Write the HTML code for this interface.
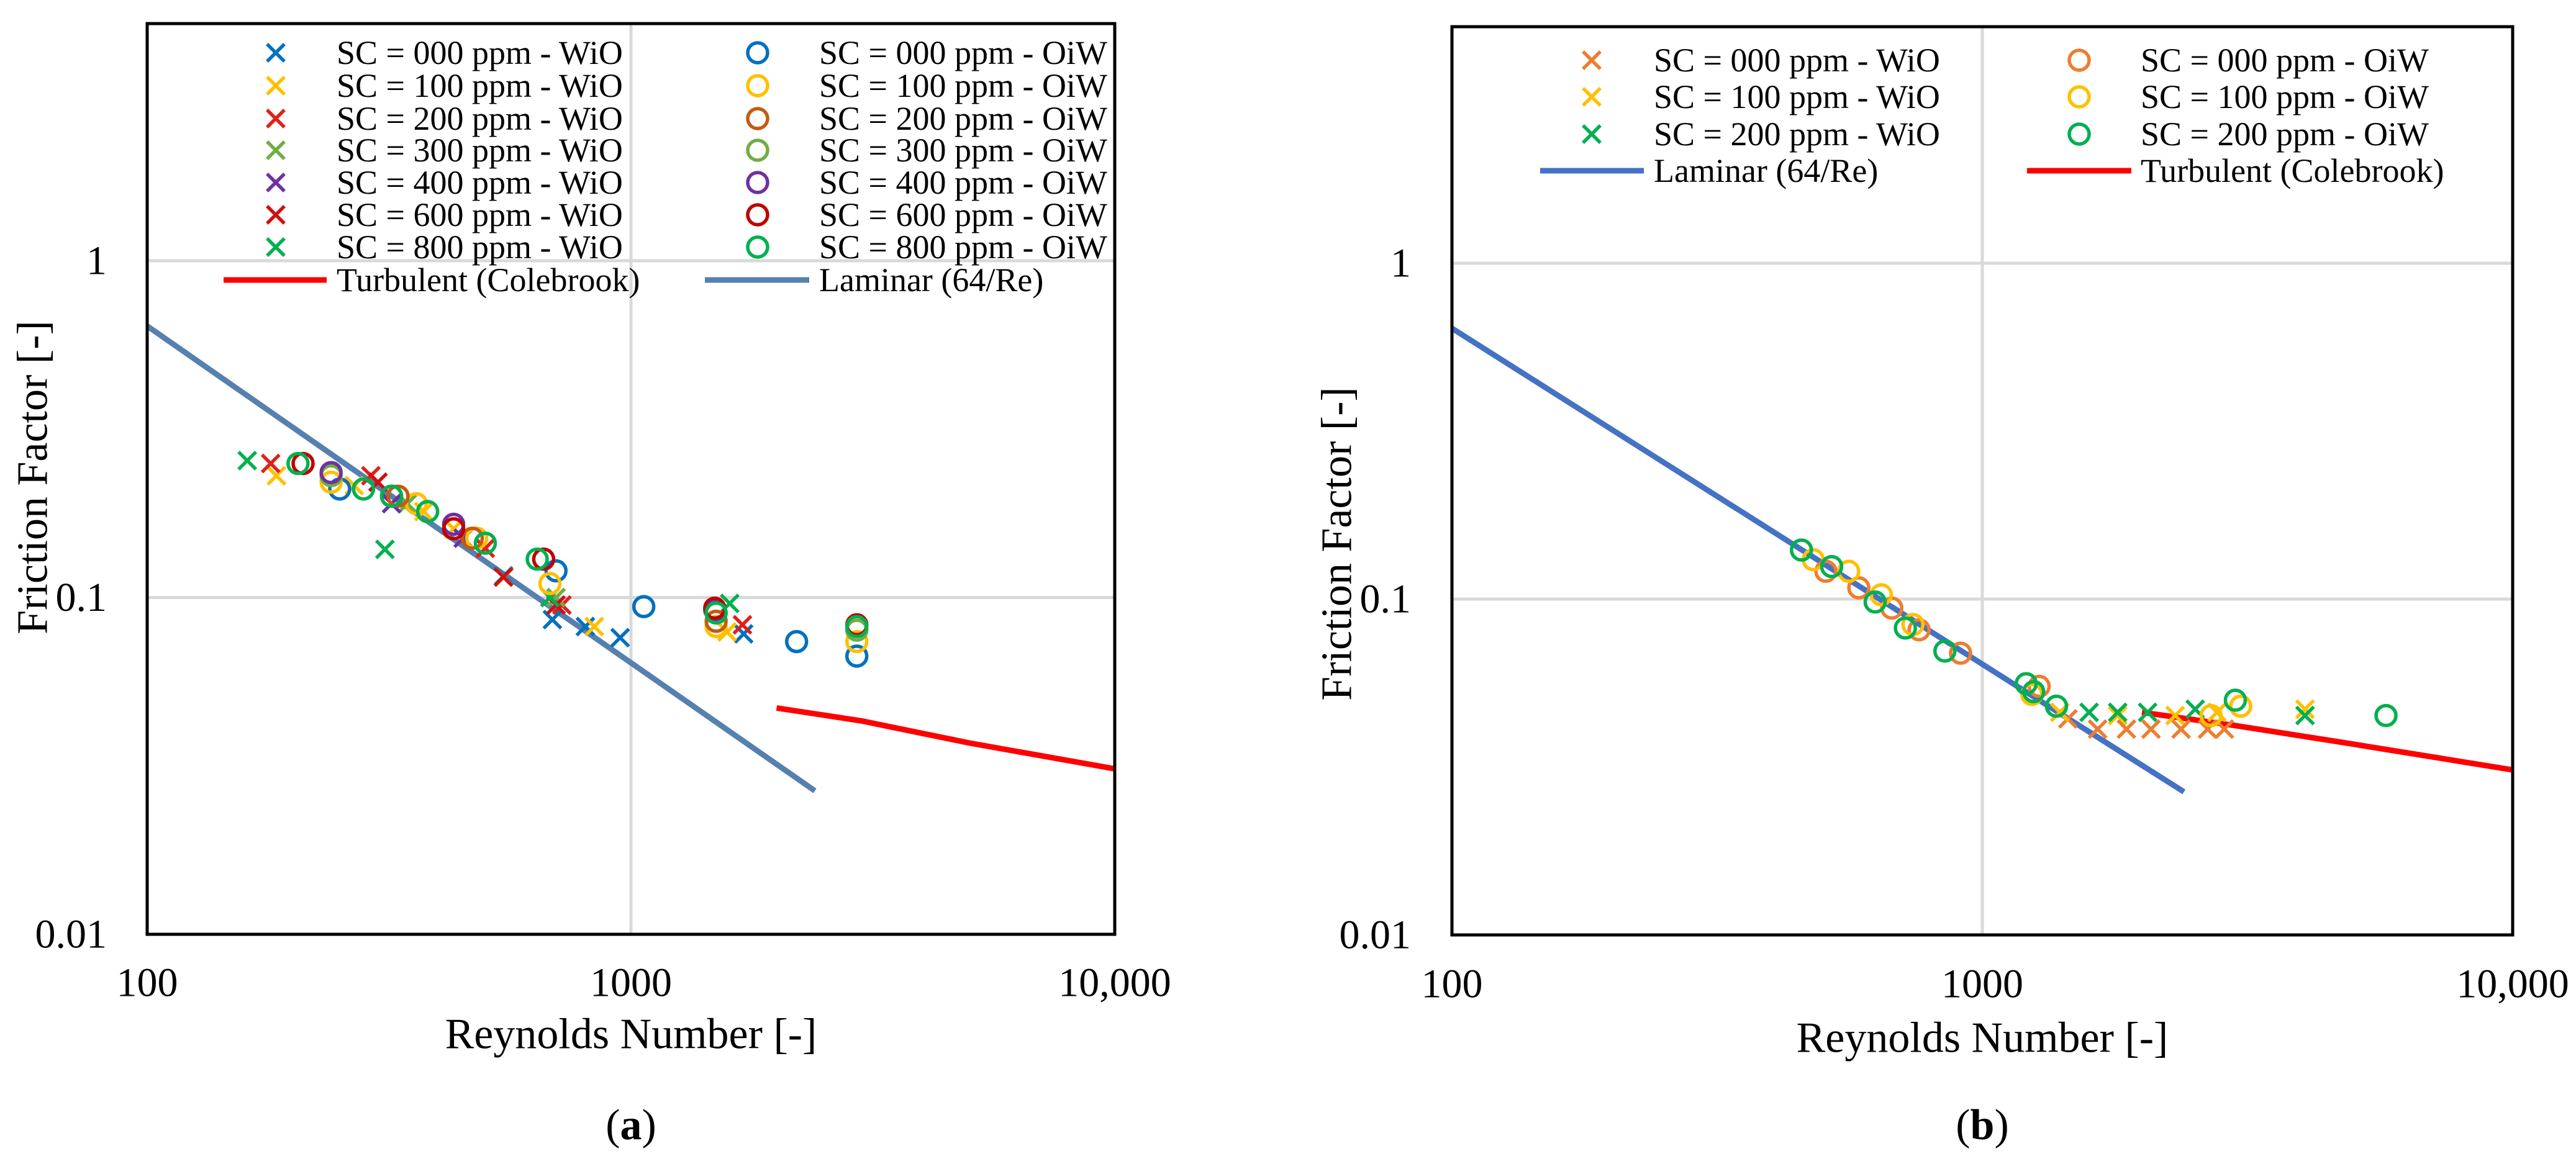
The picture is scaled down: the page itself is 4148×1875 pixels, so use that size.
<!DOCTYPE html>
<html><head><meta charset="utf-8"><style>
html,body{margin:0;padding:0;background:#fff;}
svg{display:block;}
svg text{font-family:"Liberation Serif","Times New Roman",serif;}
</style></head><body>
<svg id="fig" width="4148" height="1875" viewBox="0 0 4148 1875" xmlns="http://www.w3.org/2000/svg" font-family="Liberation Serif, serif">
<g id="chartA"></g>
<g id="chartB"></g>
</svg>
<script>
// ---------- Chart A data ----------
const aXTicks = [100, 1000, 10000];
const aXTickLabels = ["100", "1000", "10,000"];
const aYTicks = [0.01, 0.1, 1];
const aYTickLabels = ["0.01", "0.1", "1"];
const aSeriesNames = ["SC = 000 ppm - WiO","SC = 100 ppm - WiO","SC = 200 ppm - WiO","SC = 300 ppm - WiO","SC = 400 ppm - WiO","SC = 600 ppm - WiO","SC = 800 ppm - WiO",
  "SC = 000 ppm - OiW","SC = 100 ppm - OiW","SC = 200 ppm - OiW","SC = 300 ppm - OiW","SC = 400 ppm - OiW","SC = 600 ppm - OiW","SC = 800 ppm - OiW"];
const aColors = ["#0070c0","#ffc000","#e0201a","#70ad47","#7030a0","#d01010","#00b050",
  "#0070c0","#ffc000","#c55a11","#70ad47","#7030a0","#c00000","#00b050"];
const aRe = [
 [546,688,805,950,1710],
 [185,268,373,430,546,840,1580],
 [180,290,500,720,1700],
 [345,700],
 [320,450],
 [300,545,700],
 [161,310,680,1600],
 [250,700,1063,2200,2930],
 [240,360,480,680,1500,2930],
 [330,470,1500],
 [240,380,1500,2930],
 [240,430,1490],
 [210,320,430,660,1490,2930],
 [205,280,320,380,500,640,1500,2930]
];
const aF = [
 [0.116,0.086,0.082,0.076,0.078],
 [0.23,0.215,0.18,0.16,0.115,0.082,0.079],
 [0.25,0.23,0.14,0.095,0.083],
 [0.19,0.1],
 [0.19,0.15],
 [0.22,0.115,0.095],
 [0.255,0.139,0.1,0.096],
 [0.21,0.12,0.094,0.074,0.067],
 [0.22,0.19,0.15,0.11,0.082,0.074],
 [0.2,0.15,0.085],
 [0.23,0.18,0.09,0.08],
 [0.235,0.165,0.092],
 [0.25,0.2,0.16,0.13,0.093,0.083],
 [0.25,0.21,0.2,0.18,0.145,0.13,0.09,0.082]
];
const aLamRe = [100, 2400];
const aTurbRe = [2000, 3000, 5000, 10000];
const aTurbF = [0.047, 0.043, 0.037, 0.031];

// ---------- Chart B data ----------
const bSeriesNames = ["SC = 000 ppm - WiO","SC = 100 ppm - WiO","SC = 200 ppm - WiO","SC = 000 ppm - OiW","SC = 100 ppm - OiW","SC = 200 ppm - OiW"];
const bColors = ["#ed7d31","#ffc000","#00b050","#ed7d31","#ffc000","#00b050"];
const bRe = [
 [1450,1650,1870,2080,2370,2660,2860],
 [1400,1800,2310,2770,4060],
 [1590,1800,2050,2520,4060],
 [507,585,675,760,910,1280,3070],
 [480,560,645,740,1240,2700,3070,5770],
 [456,520,628,716,850,1210,1250,1380,3000,5770]
];
const bF = [
 [0.044,0.041,0.041,0.041,0.041,0.041,0.041],
 [0.046,0.045,0.045,0.046,0.047],
 [0.046,0.046,0.046,0.047,0.045],
 [0.121,0.108,0.094,0.081,0.069,0.055,0.048],
 [0.131,0.121,0.103,0.084,0.052,0.045,0.048,0.045],
 [0.140,0.125,0.098,0.082,0.070,0.056,0.053,0.048,0.050,0.045]
];
const bLamRe = [100, 2400];
const bTurbRe = [2000, 3000, 5000, 10000];
const bTurbF = [0.046, 0.042, 0.037, 0.031];

const NS = "http://www.w3.org/2000/svg";
const FONT = "Liberation Serif, serif";
function mk(parent, tag, attrs, text){
  const e = document.createElementNS(NS, tag);
  for (const k in attrs) e.setAttribute(k, attrs[k]);
  if (tag === "text") e.setAttribute("font-family", FONT);
  if (text !== undefined) e.textContent = text;
  parent.appendChild(e);
  return e;
}
function marker(g, kind, cx, cy, color){
  let m;
  if (kind === "x") {
    const s = 14;
    m = mk(g, "path", {d:`M${cx-s},${cy-s}L${cx+s},${cy+s}M${cx-s},${cy+s}L${cx+s},${cy-s}`, stroke:color, "stroke-width":5.5, fill:"none"});
  } else {
    m = mk(g, "circle", {cx:cx, cy:cy, r:16, stroke:color, "stroke-width":5.5, fill:"none"});
  }
  return m;
}

function drawChart(root, cfg){
  const X = re => cfg.L + (Math.log10(re) - 2) / 2 * (cfg.R - cfg.L);
  const Y = f => cfg.y1 - Math.log10(f) * (cfg.y001 - cfg.y1) / 2;
  const grid = mk(root, "g", {});
  
  
  mk(grid, "line", {x1:X(1000), x2:X(1000), y1:cfg.T, y2:cfg.y001, stroke:"#d9d9d9", "stroke-width":5});
  [1, 0.1].forEach(v => mk(grid, "line", {x1:cfg.L, x2:cfg.R, y1:Y(v), y2:Y(v), stroke:"#d9d9d9", "stroke-width":5}));
  const lam = mk(root, "polyline", {points: cfg.lamRe.map(r => X(r)+","+Y(64/r)).join(" "), stroke:cfg.lamColor, "stroke-width":9, fill:"none"});
  
  
  const tur = mk(root, "polyline", {points: cfg.turbRe.map((r,i) => X(r)+","+Y(cfg.turbF[i])).join(" "), stroke:"#ff0000", "stroke-width":9, fill:"none"});
  
  
  cfg.re.forEach((arr, si) => {
    const g = mk(root, "g", {});
    
    
    arr.forEach((r, i) => {
      const m = marker(g, si < cfg.nWio ? "x" : "o", X(r), Y(cfg.f[si][i]), cfg.colors[si]);
      
      
    });
  });
  const fr = mk(root, "rect", {x:cfg.L, y:cfg.T, width:cfg.R-cfg.L, height:cfg.y001-cfg.T, fill:"none", stroke:"#000", "stroke-width":5});
  
  
  aXTicks.forEach((v, i) => {
    const t = mk(root, "text", {x:X(v), y:cfg.xTickY, "font-size":66, "text-anchor":"middle", "dominant-baseline":"central"}, aXTickLabels[i]);
    
    
  });
  aYTicks.forEach((v, i) => {
    const t = mk(root, "text", {x:cfg.yTickX, y:Y(v), "font-size":66, "text-anchor":"end", "dominant-baseline":"central"}, aYTickLabels[i]);
    
    
  });
  const xt = mk(root, "text", {x:(cfg.L+cfg.R)/2, y:cfg.xTitleY, "font-size":70, "text-anchor":"middle", "dominant-baseline":"central"}, "Reynolds Number [-]");
  
  
  const yt = mk(root, "text", {x:0, y:0, "font-size":70, "text-anchor":"middle", "dominant-baseline":"central", transform:`translate(${cfg.yTitleX},${cfg.yTitleY}) rotate(-90)`}, "Friction Factor [-]");
  
  
  const pl = mk(root, "text", {x:(cfg.L+cfg.R)/2, y:1812, "font-size":70, "text-anchor":"middle", "dominant-baseline":"central"});
  mk(pl, "tspan", {}, "(");
  mk(pl, "tspan", {"font-weight":"bold"}, cfg.panel);
  mk(pl, "tspan", {}, ")");
  
  
  const lg = mk(root, "g", {});
  
  
  cfg.names.forEach((n, si) => {
    const col = si < cfg.nWio ? 0 : 1;
    const row = si < cfg.nWio ? si : si - cfg.nWio;
    const y = cfg.legRows[row];
    const e = mk(lg, "g", {});
    
    
    marker(e, col === 0 ? "x" : "o", cfg.legMk[col], y, cfg.colors[si]);
    mk(e, "text", {x:cfg.legTx[col], y:y, "font-size":54, "dominant-baseline":"central"}, n);
  });
  cfg.lineLeg.forEach(l => {
    const e = mk(lg, "g", {});
    
    
    mk(e, "line", {x1:l.x1, x2:l.x2, y1:cfg.legLineY, y2:cfg.legLineY, stroke:l.color, "stroke-width":9});
    mk(e, "text", {x:l.tx, y:cfg.legLineY, "font-size":54, "dominant-baseline":"central"}, l.label);
  });
}

drawChart(document.getElementById("chartA"), {
  L:237, R:1795, T:38, y1:420, y001:1505, panel:"a",
  re:aRe, f:aF, colors:aColors, names:aSeriesNames, nWio:7,
  lamRe:aLamRe, lamColor:"#5580b0", turbRe:aTurbRe, turbF:aTurbF,
  xTickY:1583, yTickX:172, xTitleY:1666, yTitleX:53, yTitleY:769,
  legRows:[85,138,191,242,294,346,398], legMk:[444,1220], legTx:[542,1319], legLineY:451,
  lineLeg:[{x1:360,x2:526,tx:542,color:"#ff0000",label:"Turbulent (Colebrook)"},
           {x1:1135,x2:1303,tx:1319,color:"#5580b0",label:"Laminar (64/Re)"}]
});
drawChart(document.getElementById("chartB"), {
  L:2338, R:4046, T:43, y1:424, y001:1506, panel:"b",
  re:bRe, f:bF, colors:bColors, names:bSeriesNames, nWio:3,
  lamRe:bLamRe, lamColor:"#4472c4", turbRe:bTurbRe, turbF:bTurbF,
  xTickY:1585, yTickX:2272, xTitleY:1672, yTitleX:2153, yTitleY:876,
  legRows:[97,156,216], legMk:[2563,3348], legTx:[2663,3447], legLineY:275,
  lineLeg:[{x1:2480,x2:2647,tx:2663,color:"#4472c4",label:"Laminar (64/Re)"},
           {x1:3264,x2:3432,tx:3447,color:"#ff0000",label:"Turbulent (Colebrook)"}]
});
</script>
</body></html>
